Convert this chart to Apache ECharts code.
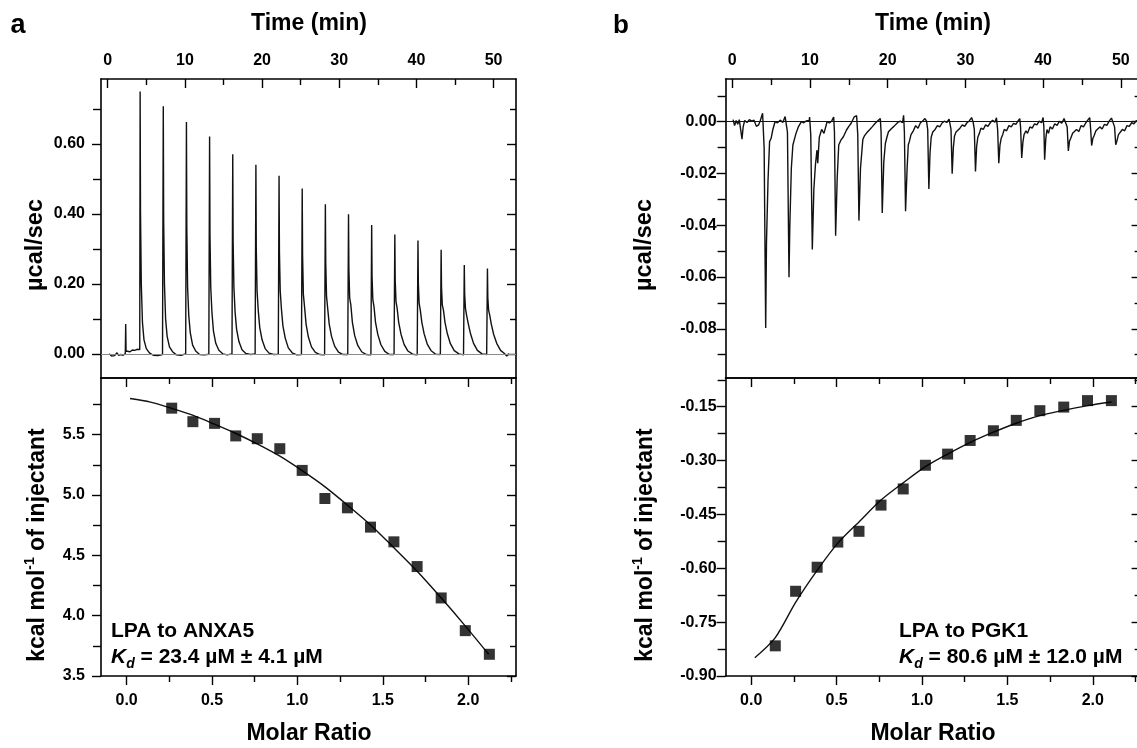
<!DOCTYPE html>
<html>
<head>
<meta charset="utf-8">
<script src="https://cdn.jsdelivr.net/npm/echarts@6/dist/echarts.min.js"></script>
<style>
html,body{margin:0;padding:0;background:#fff;}
#chart{width:1137px;height:748px;}
</style>
</head>
<body>
<div id="chart"></div>
<script>
// ---------------- DATA ----------------
// Panel a, raw thermogram (time min, µcal/sec)
const traceA = [
 [0.2,0.000],[0.5,-0.006],[0.7,-0.002],[0.9,-0.005],[1.2,0.003],[1.4,-0.004],[1.7,-0.002],[2.0,-0.004],[2.28,0.001],[2.33,0.085],[2.38,0.008],[2.6,0.010],[2.9,0.006],[3.2,0.011],[3.5,0.010],[3.8,0.013],[4.15,0.012],
 [4.2,0.749],[4.25,0.40],[4.35,0.20],[4.5,0.09],[4.7,0.04],[5.0,0.015],[5.4,0.003],[5.9,-0.004],[6.5,-0.005],[7.1,-0.002],
 [7.2,0.707],[7.25,0.38],[7.35,0.20],[7.5,0.10],[7.7,0.05],[8.0,0.02],[8.4,0.006],[8.9,-0.003],[9.5,-0.004],[10.1,0.000],
 [10.2,0.662],[10.25,0.36],[10.35,0.19],[10.5,0.11],[10.7,0.06],[11.0,0.025],[11.4,0.008],[11.9,-0.002],[12.5,-0.003],[13.1,-0.001],
 [13.2,0.621],[13.25,0.34],[13.35,0.19],[13.5,0.12],[13.7,0.065],[14.0,0.03],[14.4,0.010],[14.9,0.000],[15.5,-0.003],[16.1,0.000],
 [16.2,0.570],[16.25,0.32],[16.35,0.19],[16.5,0.12],[16.7,0.07],[17.0,0.035],[17.4,0.012],[17.9,0.001],[18.5,-0.002],[19.1,0.000],
 [19.2,0.540],[19.25,0.30],[19.35,0.18],[19.5,0.125],[19.7,0.075],[20.0,0.04],[20.4,0.015],[20.9,0.002],[21.5,-0.002],[22.1,-0.001],
 [22.2,0.509],[22.25,0.29],[22.35,0.18],[22.5,0.13],[22.7,0.08],[23.0,0.045],[23.4,0.017],[23.9,0.003],[24.5,-0.003],[25.1,-0.002],
 [25.2,0.472],[25.25,0.28],[25.35,0.17],[25.5,0.135],[25.7,0.085],[26.0,0.048],[26.4,0.02],[26.9,0.004],[27.5,-0.002],[28.1,-0.003],
 [28.2,0.427],[28.25,0.26],[28.35,0.165],[28.5,0.13],[28.7,0.085],[29.0,0.05],[29.4,0.022],[29.9,0.005],[30.5,-0.002],[31.1,-0.002],
 [31.2,0.399],[31.25,0.24],[31.35,0.16],[31.5,0.14],[31.7,0.09],[32.0,0.052],[32.4,0.024],[32.9,0.006],[33.5,-0.002],[34.1,-0.003],
 [34.2,0.368],[34.25,0.22],[34.35,0.155],[34.5,0.135],[34.7,0.09],[35.0,0.055],[35.4,0.026],[35.9,0.007],[36.5,-0.002],[37.1,-0.002],
 [37.2,0.341],[37.25,0.21],[37.35,0.15],[37.5,0.13],[37.7,0.09],[38.0,0.056],[38.4,0.027],[38.9,0.008],[39.5,-0.001],[40.1,-0.003],
 [40.2,0.324],[40.25,0.20],[40.35,0.145],[40.5,0.125],[40.7,0.09],[41.0,0.057],[41.4,0.028],[41.9,0.009],[42.5,-0.001],[43.1,-0.002],
 [43.2,0.297],[43.25,0.19],[43.35,0.14],[43.5,0.125],[43.7,0.09],[44.0,0.058],[44.4,0.029],[44.9,0.009],[45.5,0.000],[46.1,-0.003],
 [46.2,0.254],[46.25,0.17],[46.35,0.13],[46.5,0.11],[46.7,0.088],[47.0,0.058],[47.4,0.03],[47.9,0.010],[48.5,0.000],[49.1,-0.002],
 [49.2,0.244],[49.25,0.16],[49.35,0.125],[49.5,0.11],[49.7,0.085],[50.0,0.056],[50.4,0.03],[50.9,0.010],[51.4,0.001],[51.7,-0.006],[52.0,0.000]
];
// Panel b, raw thermogram
const traceB = [
 [0.1,0.0008],[0.3,-0.0015],[0.5,0.0005],[0.7,-0.001],[0.9,0.0008],[1.1,0.0002],[1.25,-0.0067],[1.4,-0.002],[1.6,0.0005],[1.9,-0.0003],[2.2,0.0008],[2.5,0.0002],[2.8,0.0006],[3.1,-0.0018],[3.4,-0.0012],[3.6,0.0004],[3.9,0.0033],[4.1,-0.010],
 [4.3,-0.0797],[4.4,-0.047],[4.6,-0.0226],[4.8,-0.0077],[5.0,-0.0064],[5.2,-0.0033],[5.5,0.0],[5.8,-0.0004],[6.2,0.0006],[6.5,-0.0003],[6.8,0.0020],[7.1,-0.004],
 [7.3,-0.0601],[7.4,-0.041],[7.6,-0.018],[7.8,-0.009],[8.2,-0.0045],[8.5,-0.002],[8.9,0.0],[9.2,-0.0004],[9.5,0.0003],[9.9,0.0005],[9.95,0.0018],[10.1,-0.005],
 [10.3,-0.0494],[10.5,-0.026],[10.7,-0.0167],[10.9,-0.011],[11.0,-0.016],[11.2,-0.006],[11.5,-0.003],[11.8,-0.0045],[12.2,0.0],[12.5,-0.0005],[12.8,0.0003],[13.05,0.0018],[13.15,-0.004],
 [13.3,-0.0440],[13.5,-0.022],[13.7,-0.009],[14.0,-0.007],[14.3,-0.0058],[14.7,-0.0032],[15.0,-0.0018],[15.3,-0.0006],[15.7,0.0019],[16.0,0.0023],[16.15,-0.005],
 [16.3,-0.0382],[16.5,-0.018],[16.8,-0.0069],[17.0,-0.0055],[17.3,-0.0043],[17.7,-0.003],[18.0,-0.002],[18.4,-0.0006],[18.7,0.0003],[18.9,0.0010],[19.05,0.0012],[19.15,-0.004],
 [19.3,-0.0353],[19.5,-0.0155],[19.7,-0.0084],[19.9,-0.006],[20.1,-0.0039],[20.3,-0.004],[20.5,-0.0026],[20.8,-0.0018],[21.0,-0.0013],[21.3,-0.0003],[21.6,0.0002],[21.9,-0.0004],[22.05,0.0025],[22.15,-0.004],
 [22.3,-0.0346],[22.5,-0.018],[22.65,-0.009],[22.8,-0.0075],[23.0,-0.005],[23.3,-0.0035],[23.6,-0.0015],[23.9,-0.0025],[24.2,-0.0005],[24.5,0.0003],[24.8,0.0012],[25.0,0.0002],[25.15,-0.003],
 [25.3,-0.0260],[25.45,-0.012],[25.6,-0.006],[25.8,-0.004],[26.1,-0.003],[26.4,-0.0015],[26.7,-0.002],[27.0,-0.0005],[27.3,0.0002],[27.6,-0.0003],[27.9,0.0010],[28.05,0.0006],[28.15,-0.003],
 [28.3,-0.0201],[28.45,-0.010],[28.6,-0.0055],[28.8,-0.004],[29.0,-0.0045],[29.3,-0.0025],[29.6,-0.0012],[29.9,-0.0018],[30.2,-0.0004],[30.5,0.0003],[30.8,0.0016],[31.0,-0.0002],[31.15,-0.003],
 [31.3,-0.0192],[31.45,-0.0095],[31.6,-0.006],[31.8,-0.0045],[32.0,-0.0025],[32.3,-0.003],[32.6,-0.0012],[32.9,-0.0018],[33.2,-0.0004],[33.5,0.0006],[33.8,-0.0002],[34.0,0.0015],[34.15,-0.003],
 [34.3,-0.0160],[34.45,-0.009],[34.6,-0.0065],[34.8,-0.005],[35.0,-0.003],[35.3,-0.0035],[35.6,-0.0015],[35.9,-0.002],[36.2,-0.0006],[36.5,-0.001],[36.8,0.0004],[37.0,0.0012],[37.1,-0.002],
 [37.25,-0.0140],[37.4,-0.008],[37.55,-0.005],[37.8,-0.0035],[38.0,-0.0045],[38.3,-0.002],[38.6,-0.0025],[38.9,-0.0008],[39.2,-0.0012],[39.5,0.0002],[39.8,-0.0004],[40.0,0.0016],[40.1,-0.002],
 [40.2,-0.0147],[40.35,-0.0065],[40.5,-0.003],[40.7,-0.0045],[40.9,-0.002],[41.2,-0.0028],[41.5,-0.0008],[41.8,-0.0014],[42.1,0.0002],[42.4,-0.0006],[42.7,0.0012],[42.95,0.0018],[43.1,-0.002],
 [43.25,-0.0113],[43.4,-0.0075],[43.55,-0.0065],[43.8,-0.0045],[44.0,-0.005],[44.3,-0.003],[44.6,-0.0038],[44.9,-0.0015],[45.2,-0.002],[45.5,-0.0004],[45.8,0.0008],[46.0,0.0016],[46.1,-0.002],
 [46.25,-0.0092],[46.4,-0.0065],[46.55,-0.0055],[46.8,-0.0035],[47.0,-0.0042],[47.3,-0.002],[47.6,-0.0028],[47.9,-0.001],[48.2,-0.0014],[48.5,0.0002],[48.8,0.0014],[49.0,0.0018],[49.2,-0.002],
 [49.35,-0.0089],[49.5,-0.0075],[49.7,-0.005],[49.9,-0.0055],[50.2,-0.003],[50.5,-0.0035],[50.8,-0.0015],[51.1,-0.0018],[51.4,-0.0004],[51.7,-0.0008],[52.0,0.0004],[52.3,-0.0002]
];
// Integrated heats
const ratioA = [0.264,0.388,0.515,0.639,0.765,0.897,1.028,1.161,1.293,1.428,1.565,1.701,1.842,1.983,2.124];
const heatA  = [5.72,5.608,5.594,5.49,5.467,5.384,5.204,4.971,4.894,4.734,4.612,4.407,4.147,3.876,3.68];
const fitXA  = [0.02,0.14,0.26,0.39,0.51,0.64,0.77,0.90,1.03,1.16,1.29,1.43,1.56,1.70,1.84,1.98,2.12];
const fitYA  = [5.80,5.77,5.72,5.66,5.59,5.51,5.42,5.32,5.20,5.07,4.92,4.75,4.57,4.37,4.15,3.92,3.68];
const ratioB = [0.141,0.260,0.386,0.507,0.631,0.760,0.890,1.020,1.150,1.282,1.418,1.552,1.690,1.830,1.969,2.109];
const heatB  = [-0.816,-0.664,-0.597,-0.527,-0.497,-0.424,-0.379,-0.313,-0.282,-0.244,-0.217,-0.188,-0.161,-0.151,-0.133,-0.133];
const fitXB  = [0.021,0.141,0.26,0.386,0.507,0.631,0.76,0.89,1.02,1.15,1.28,1.418,1.552,1.69,1.83,1.97,2.11];
const fitYB  = [-0.849,-0.793,-0.695,-0.606,-0.53,-0.471,-0.41,-0.362,-0.317,-0.282,-0.25,-0.221,-0.196,-0.175,-0.16,-0.147,-0.137];
// Tick values
const timeMajor = [0,10,20,30,40,50], timeMinor = [5,15,25,35,45];
const ratioMajor = [0,0.5,1.0,1.5,2.0], ratioMinor = [0.25,0.75,1.25,1.75,2.25];
const powAMajor = [0,0.2,0.4,0.6], powAMinor = [0.1,0.3,0.5,0.7];
const powBMajor = [0,-0.02,-0.04,-0.06,-0.08], powBMinor = [0.01,-0.01,-0.03,-0.05,-0.07,-0.09];
const heatAMajor = [3.5,4.0,4.5,5.0,5.5], heatAMinor = [3.75,4.25,4.75,5.25,5.75];
const heatBMajor = [-0.90,-0.75,-0.60,-0.45,-0.30,-0.15], heatBMinor = [-0.825,-0.675,-0.525,-0.375,-0.225,-0.075];
// Text
const panelLetters = ['a','b'];
const timeTitle = 'Time (min)', powerTitle = 'µcal/sec', ratioTitle = 'Molar Ratio';
const labelsA = ['LPA to ANXA5',' = 23.4 µM ± 4.1 µM'];
const labelsB = ['LPA to PGK1',' = 80.6 µM ± 12.0 µM'];

// ---------------- LAYOUT ----------------
const F = '"Liberation Sans", Arial, Helvetica, sans-serif';
const grids = [
  {left:101, top:79, width:415, height:299},
  {left:101, top:378, width:415, height:298},
  {left:725.6, top:79, width:415, height:299},
  {left:725.6, top:378, width:415, height:298}
];
const xAxes = [], yAxes = [];
function ax(list, gi, pos, range, ticks, len, inside, lineShow, label) {
  const a = {
    type:'value', gridIndex:gi, position:pos, min:range[0], max:range[1],
    axisLine:{show:lineShow, onZero:false, lineStyle:{color:'#000', width:1.6}},
    axisTick:{show:ticks.length>0, customValues:ticks, length:len, inside:inside, lineStyle:{color:'#000', width:1.4}},
    axisLabel:{show:false},
    splitLine:{show:false}, minorTick:{show:false}, axisPointer:{show:false}
  };
  if (label) {
    a.axisLabel = {show:true, customValues:label.values, margin:label.margin,
      formatter: v => Number(v).toFixed(label.dec), color:'#000',
      fontFamily:F, fontWeight:'bold', fontSize:16};
  }
  list.push(a);
  return list.length-1;
}
function panel(gi, xr, yr, xMaj, xMin, yMaj, yMin, isTop, xDec, yDec, yMargin) {
  let xi, yi;
  if (isTop) {
    xi = ax(xAxes, gi, 'bottom', xr, [], 0, true, true, null);
    ax(xAxes, gi, 'top', xr, xMaj, 9, true, true, {values:xMaj, dec:xDec, margin:10});
    ax(xAxes, gi, 'top', xr, xMin, 6, true, false, null);
  } else {
    xi = ax(xAxes, gi, 'bottom', xr, xMaj, 9, false, true, {values:xMaj, dec:xDec, margin:17});
    ax(xAxes, gi, 'bottom', xr, xMin, 6, false, false, null);
    ax(xAxes, gi, 'top', xr, xMaj, 9, true, true, null);
    ax(xAxes, gi, 'top', xr, xMin, 6, true, false, null);
  }
  yi = ax(yAxes, gi, 'left', yr, yMaj, 9, false, true, {values:yMaj, dec:yDec, margin:yMargin});
  ax(yAxes, gi, 'left', yr, yMin, 8, false, false, null);
  ax(yAxes, gi, 'right', yr, yMaj, 9, true, true, null);
  ax(yAxes, gi, 'right', yr, yMin, 6, true, false, null);
  return [xi, yi];
}
const pA1 = panel(0, [-0.87,52.9], [-0.069,0.785], timeMajor, timeMinor, powAMajor, powAMinor, true, 0, 2, 16);
const pA2 = panel(1, [-0.15,2.28], [3.5,5.97], ratioMajor, ratioMinor, heatAMajor, heatAMinor, false, 1, 1, 16);
const pB1 = panel(2, [-0.86,52.55], [-0.099,0.0165], timeMajor, timeMinor, powBMajor, powBMinor, true, 0, 2, 9);
const pB2 = panel(3, [-0.15,2.28], [-0.90,-0.07], ratioMajor, ratioMinor, heatBMajor, heatBMinor, false, 1, 2, 9);

function traceSeries(p, data, zeroColor) {
  return {type:'line', xAxisIndex:p[0], yAxisIndex:p[1], data:data, showSymbol:false, symbol:'none',
    lineStyle:{color:'#111', width:1.4}, silent:true, z:3,
    markLine:{symbol:'none', silent:true, label:{show:false}, animation:false,
      lineStyle:{color:zeroColor, width:1.2, type:'solid'}, data:[{yAxis:0}]}};
}
function fitSeries(p, xs, ys) {
  return {type:'line', xAxisIndex:p[0], yAxisIndex:p[1], data:xs.map((x,i)=>[x,ys[i]]), showSymbol:false, symbol:'none',
    smooth:0.3, lineStyle:{color:'#111', width:1.4}, silent:true, z:3};
}
function pointSeries(p, xs, ys) {
  return {type:'scatter', xAxisIndex:p[0], yAxisIndex:p[1], data:xs.map((x,i)=>[x,ys[i]]),
    symbol:'rect', symbolSize:11, itemStyle:{color:'#000'}, silent:true, z:4};
}

function txt(x, y, text, size, opts) {
  return Object.assign({type:'text', x:x, y:y, silent:true,
    style:Object.assign({text:text, fontFamily:F, fontWeight:'bold', fontSize:size, fill:'#000',
      textAlign:'center', textVerticalAlign:'middle'}, (opts&&opts.style)||{})},
    opts&&opts.el||{});
}
const kcalRich = {
  m:{fontFamily:F, fontWeight:'bold', fontSize:23, lineHeight:29, fill:'#000'},
  s:{fontFamily:F, fontWeight:'bold', fontSize:14, lineHeight:14, verticalAlign:'top', fill:'#000'}
};
const kdRich = {
  k:{fontFamily:F, fontWeight:'bold', fontStyle:'italic', fontSize:21, lineHeight:28, fill:'#000'},
  d:{fontFamily:F, fontWeight:'bold', fontStyle:'italic', fontSize:14, lineHeight:14, verticalAlign:'bottom', fill:'#000'},
  t:{fontFamily:F, fontWeight:'bold', fontSize:21, lineHeight:28, fill:'#000'}
};
const graphics = [
  txt(10.5, 26, panelLetters[0], 27, {style:{textAlign:'left'}}),
  txt(613, 26, panelLetters[1], 26, {style:{textAlign:'left'}}),
  txt(309, 23.5, timeTitle, 23),
  txt(933, 23.5, timeTitle, 23),
  txt(309, 734, ratioTitle, 23),
  txt(933, 734, ratioTitle, 23),
  txt(36, 245, powerTitle, 23.5, {el:{rotation:Math.PI/2}}),
  txt(645, 245, powerTitle, 23.5, {el:{rotation:Math.PI/2}}),
  txt(38, 545, '{m|kcal mol}{s|-1}{m| of injectant}', 23, {el:{rotation:Math.PI/2}, style:{rich:kcalRich}}),
  txt(646, 545, '{m|kcal mol}{s|-1}{m| of injectant}', 23, {el:{rotation:Math.PI/2}, style:{rich:kcalRich}}),
  txt(111, 631, labelsA[0], 21, {style:{textAlign:'left'}}),
  txt(111, 657, '{k|K}{d|d}{t|'+labelsA[1]+'}', 21, {style:{textAlign:'left', rich:kdRich}}),
  txt(899, 631, labelsB[0], 21, {style:{textAlign:'left'}}),
  txt(899, 657, '{k|K}{d|d}{t|'+labelsB[1]+'}', 21, {style:{textAlign:'left', rich:kdRich}})
];

const chart = echarts.init(document.getElementById('chart'), null, {renderer:'canvas'});
chart.setOption({
  animation:false,
  backgroundColor:'#fff',
  grid: grids.map(g => Object.assign({show:false, containLabel:false, outerBoundsMode:'none'}, g)),
  xAxis: xAxes,
  yAxis: yAxes,
  series: [
    traceSeries(pA1, traceA, '#8a8a8a'),
    traceSeries(pB1, traceB, '#111'),
    fitSeries(pA2, fitXA, fitYA),
    pointSeries(pA2, ratioA, heatA),
    fitSeries(pB2, fitXB, fitYB),
    pointSeries(pB2, ratioB, heatB)
  ],
  graphic: graphics
});
</script>
</body>
</html>
